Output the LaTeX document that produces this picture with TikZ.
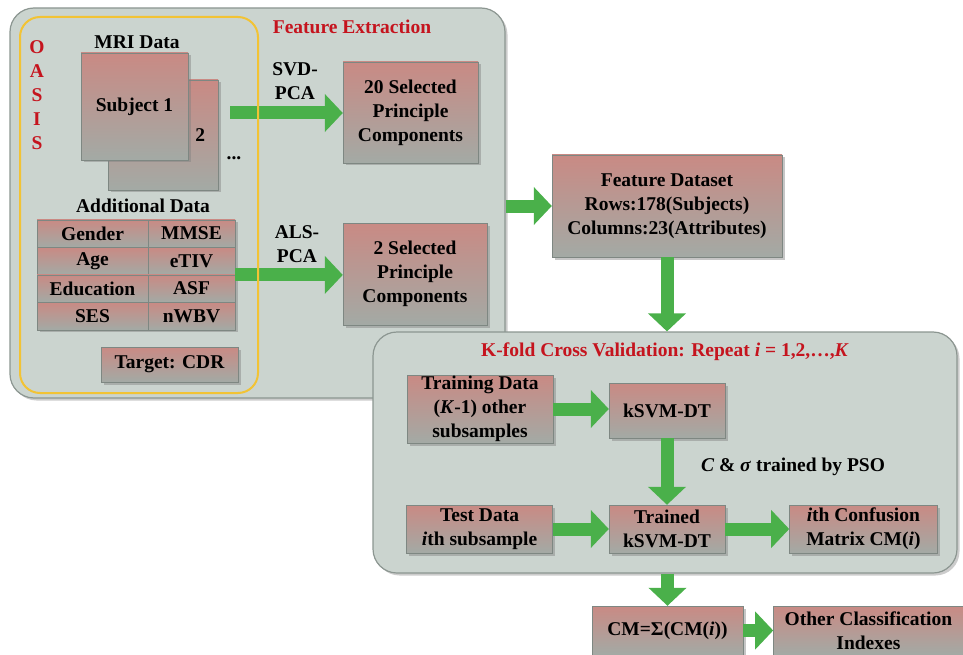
\documentclass[tikz,border=0pt]{standalone}
\usepackage{fontspec}
\setmainfont{Liberation Serif}
\usepackage{xcolor}
\usepackage{tikz}
\usetikzlibrary{arrows.meta}
\usetikzlibrary{positioning}
\usetikzlibrary{shadows}

\definecolor{panelfill}{HTML}{CBD4CF}
\definecolor{panelline}{HTML}{8C9691}
\definecolor{boxtop}{HTML}{C98A84}
\definecolor{boxbot}{HTML}{A3AAA5}
\definecolor{boxline}{HTML}{7E8782}
\definecolor{flowgreen}{HTML}{4AB04A}
\definecolor{oasisyellow}{HTML}{F2C335}
\definecolor{titlered}{HTML}{C5141E}

\begin{document}
\begin{tikzpicture}[
  x=1pt, y=-1pt,
  every node/.style={font=\fontsize{19.5}{24}\selectfont\bfseries, align=center},
  sz/.style 2 args={minimum width=#1pt, minimum height=#2pt},
  box/.style={draw=boxline, top color=boxtop, bottom color=boxbot, inner sep=0pt,
    drop shadow={shadow xshift=2.5pt, shadow yshift=-2.5pt, opacity=0.45}},
  panel/.style={draw=panelline, line width=1.2pt, fill=panelfill, rounded corners=24pt,
    drop shadow={shadow xshift=2.5pt, shadow yshift=-2.5pt, opacity=0.4}},
  bigarrow/.style={draw=flowgreen, line width=13pt, -{Triangle[length=18pt,width=37pt]}},
  title/.style={text=titlered}
]
\useasboundingbox (0,0) rectangle (963,655);

\node[panel, sz={495}{390}] (fepanel) at (257.5,203) {};
\node[panel, sz={584}{241}] (kfpanel) at (665,452.5) {};

\node[title] (fetitle) at (352,27) {Feature Extraction};
\node[title] (oasisname) at (37,95) {O\\A\\S\\I\\S};
\node (mrilabel) at (137,42) {MRI Data};
\node[box, sz={110}{110}, text width=84pt, align=right] (subj2) at (163,135) {2};
\node[box, sz={107}{107}] (subj1) at (134.5,106.5) {Subject 1};
\node (moresubj) at (234,158) {...};
\node (addlabel) at (143,206) {Additional Data};
\foreach \l/\r [count=\i] in {Gender/MMSE, Age/eTIV, Education/ASF, SES/nWBV}{
  \node[box, sz={111}{27.5}] (tabL\i) at (92.5,206+27.5*\i) {\l};
  \node[box, sz={87}{27.5}] (tabR\i) at (191.5,206+27.5*\i) {\r};
}
\node[box, sz={137}{35}] (target) at (169.5,364.5) {Target: CDR};
\node[box, sz={135}{101}] (pc20) at (410.5,112.5) {20 Selected\\Principle\\Components};
\node[box, sz={144}{102}] (pc2) at (415,274) {2 Selected\\Principle\\Components};
\node (svdlabel) at (295,81) {SVD-\\PCA};
\node (alslabel) at (297,244) {ALS-\\PCA};
\coordinate (svdstart) at (230,113);

\draw[bigarrow] (svdstart) -- (svdstart -| pc20.west);
\draw[bigarrow] (tabR2.south east) -- (tabR2.south east -| pc2.west);
\node[draw=oasisyellow, line width=2pt, rounded corners=20pt, sz={238}{376}] (oasis) at (139,205) {};

\node[box, sz={230}{102}] (feat) at (667,206) {Feature Dataset\\Rows:178(Subjects)\\Columns:23(Attributes)};
\draw[bigarrow] (fepanel.east |- feat.west) -- (feat.west);
\draw[bigarrow] (feat.south) -- (feat.south |- kfpanel.north);

\node[title] (kftitle) at (665,352) {K-fold Cross Validation: Repeat \textit{i} = 1,2,\dots,\textit{K}};
\node[box, sz={116}{55}] (ksvm) at (667,410.5) {kSVM-DT};
\node[box, sz={146}{68}] (train) at (480,409) {Training Data\\(\textit{K}-1) other\\subsamples};
\node[box, sz={116}{48}] (trained) at (667,529) {Trained\\kSVM-DT};
\node[box, sz={146}{48}, left=56pt of trained] (test) {Test Data\\\textit{i}th subsample};
\node[box, sz={148}{48}, right=64pt of trained] (cm) {\textit{i}th Confusion\\Matrix CM(\textit{i})};
\node (psolabel) at (793,467) {\textit{C} \& \textit{σ} trained by PSO};
\draw[bigarrow] (train.east) -- (train.east -| ksvm.west);
\draw[bigarrow] (ksvm.south) -- (trained.north);
\draw[bigarrow] (test.east) -- (trained.west);
\draw[bigarrow] (trained.east) -- (cm.west);

\node[box, sz={151}{49}] (cmsum) at (667.5,630.5) {CM=Σ(CM(\textit{i}))};
\node[box, sz={190}{49}, right=30pt of cmsum] (other) {Other Classification\\Indexes};
\draw[bigarrow] (cmsum.north |- kfpanel.south) -- (cmsum.north);
\draw[bigarrow] (cmsum.east) -- (other.west);
\end{tikzpicture}
\end{document}
